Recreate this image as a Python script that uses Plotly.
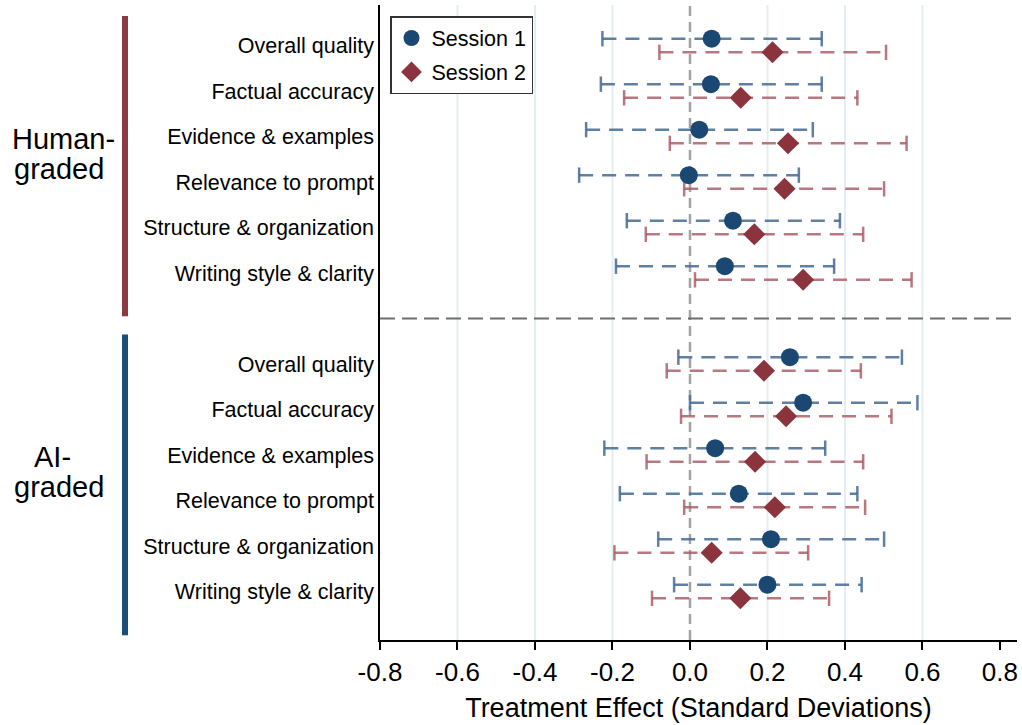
import plotly.graph_objects as go

# Outcome labels (same six dimensions for both grader types)
categories = ["Overall quality", "Factual accuracy", "Evidence & examples",
              "Relevance to prompt", "Structure & organization", "Writing style & clarity"]

# Human-graded effects: point estimate, lower and upper CI bounds
human_s1_est = [0.056, 0.054, 0.024, -0.003, 0.111, 0.090]
human_s1_lo = [-0.226, -0.230, -0.268, -0.286, -0.163, -0.191]
human_s1_hi = [0.340, 0.340, 0.317, 0.281, 0.387, 0.372]
human_s2_est = [0.213, 0.131, 0.253, 0.244, 0.166, 0.292]
human_s2_lo = [-0.079, -0.170, -0.052, -0.015, -0.114, 0.013]
human_s2_hi = [0.506, 0.432, 0.559, 0.501, 0.447, 0.572]

# AI-graded effects
ai_s1_est = [0.258, 0.292, 0.065, 0.126, 0.209, 0.200]
ai_s1_lo = [-0.030, 0.000, -0.221, -0.181, -0.082, -0.041]
ai_s1_hi = [0.547, 0.587, 0.349, 0.432, 0.501, 0.443]
ai_s2_est = [0.191, 0.248, 0.168, 0.219, 0.056, 0.130]
ai_s2_lo = [-0.060, -0.023, -0.112, -0.015, -0.195, -0.098]
ai_s2_hi = [0.441, 0.520, 0.447, 0.452, 0.305, 0.359]

x_tick_vals = [-0.8, -0.6, -0.4, -0.2, 0.0, 0.2, 0.4, 0.6, 0.8]
x_tick_text = ["-0.8", "-0.6", "-0.4", "-0.2", "0.0", "0.2", "0.4", "0.6", "0.8"]
group_names = [("Human-", "graded"), ("AI-", "graded")]

FONT = "Liberation Sans, Arial, sans-serif"
BLUE = "#1B4872"
RED = "#8B343D"
BLUE_CI = "rgba(73,110,150,0.88)"
RED_CI = "rgba(170,90,100,0.82)"

# row positions: human rows 1..6, gap row 7, AI rows 8..13
human_rows = [1, 2, 3, 4, 5, 6]
ai_rows = [8, 9, 10, 11, 12, 13]
offset = 0.15

def ci_xy(lo, hi, rows, shift):
    xs, ys = [], []
    for a, b, r in zip(lo, hi, rows):
        xs += [a, b, None]
        ys += [r + shift, r + shift, None]
    return xs, ys

def caps_xy(lo, hi, rows, shift):
    xs, ys = [], []
    for a, b, r in zip(lo, hi, rows):
        xs += [a, b]
        ys += [r + shift, r + shift]
    return xs, ys

fig = go.Figure()

series = [
    (human_s1_lo + ai_s1_lo, human_s1_hi + ai_s1_hi, human_s1_est + ai_s1_est, -offset, BLUE_CI, BLUE, "circle", 18, "Session 1"),
    (human_s2_lo + ai_s2_lo, human_s2_hi + ai_s2_hi, human_s2_est + ai_s2_est, offset, RED_CI, RED, "diamond", 17, "Session 2"),
]
rows_all = human_rows + ai_rows

for lo, hi, est, shift, ci_col, col, sym, size, name in series:
    xs, ys = ci_xy(lo, hi, rows_all, shift)
    fig.add_trace(go.Scatter(x=xs, y=ys, mode="lines", showlegend=False, hoverinfo="skip",
                             line=dict(color=ci_col, width=2.5, dash="14px,9px")))
    cx, cy = caps_xy(lo, hi, rows_all, shift)
    fig.add_trace(go.Scatter(x=cx, y=cy, mode="markers", showlegend=False, hoverinfo="skip",
                             marker=dict(symbol="line-ns", size=11,
                                         line=dict(color=ci_col, width=2.5))))

for lo, hi, est, shift, ci_col, col, sym, size, name in series:
    fig.add_trace(go.Scatter(x=est, y=[r + shift for r in rows_all], mode="markers", name=name,
                             legendgroup=name,
                             marker=dict(symbol=sym, size=size, color=col, line=dict(width=0))))

shapes = []
# light vertical gridlines
for gx in [-0.6, -0.4, -0.2, 0.2, 0.4, 0.6]:
    shapes.append(dict(type="line", xref="x", yref="paper", x0=gx, x1=gx, y0=0, y1=1,
                       line=dict(color="#E4EDF1", width=2), layer="below"))
# zero reference line
shapes.append(dict(type="line", xref="x", yref="paper", x0=0, x1=0, y0=0, y1=1,
                   line=dict(color="#A3A3A3", width=2.5, dash="10px,6px"), layer="below"))
# separator between grader types
shapes.append(dict(type="line", xref="paper", yref="y", x0=0, x1=1, y0=7, y1=7,
                   line=dict(color="#6E6E6E", width=2, dash="15px,7px")))
# group bars on the left
bar_x = (125 - 380) / 637
shapes.append(dict(type="line", xref="paper", yref="y", x0=bar_x, x1=bar_x, y0=0.35, y1=6.95,
                   line=dict(color="#8C3B43", width=6)))
shapes.append(dict(type="line", xref="paper", yref="y", x0=bar_x, x1=bar_x, y0=7.35, y1=13.96,
                   line=dict(color="#1D4E78", width=6)))

annotations = []
for (l1, l2), yc, x1px in zip(group_names, [3.38, 10.38], [63, 52]):
    annotations.append(dict(xref="paper", yref="y", x=(x1px - 380) / 637, y=yc - 0.33, text=l1,
                            showarrow=False, xanchor="center", yanchor="middle",
                            font=dict(size=29, color="black", family=FONT)))
    annotations.append(dict(xref="paper", yref="y", x=(59 - 380) / 637, y=yc + 0.33, text=l2,
                            showarrow=False, xanchor="center", yanchor="middle",
                            font=dict(size=29, color="black", family=FONT)))

fig.update_layout(
    width=1022, height=725,
    margin=dict(l=380, r=5, t=5, b=85),
    paper_bgcolor="white", plot_bgcolor="white",
    font=dict(family=FONT, color="black"),
    shapes=shapes, annotations=annotations,
    legend=dict(x=(390 - 380) / 637, y=1 - (16 - 5) / 635, xanchor="left", yanchor="top",
                bgcolor="white", bordercolor="#333333", borderwidth=1.5,
                tracegroupgap=3, entrywidth=134, entrywidthmode="pixels",
                font=dict(size=21.5, family=FONT, color="black")),
    xaxis=dict(range=[-0.8, 0.844], tickvals=x_tick_vals, ticktext=x_tick_text,
               showgrid=False, zeroline=False, showline=True, linecolor="black", linewidth=1.5,
               ticks="outside", ticklen=8, tickwidth=1.5, tickcolor="black",
               tickfont=dict(size=26, family=FONT, color="black"),
               title=dict(text="Treatment Effect (Standard Deviations)", standoff=12,
                          font=dict(size=27, family=FONT, color="black"))),
    yaxis=dict(range=[14.066, 0.11], tickvals=rows_all, ticktext=categories + categories,
               showgrid=False, zeroline=False, showline=True, linecolor="black", linewidth=1.5,
               ticks="", ticklabelstandoff=0,
               tickfont=dict(size=21.5, family=FONT, color="black")),
)

fig.write_html("out.html")
